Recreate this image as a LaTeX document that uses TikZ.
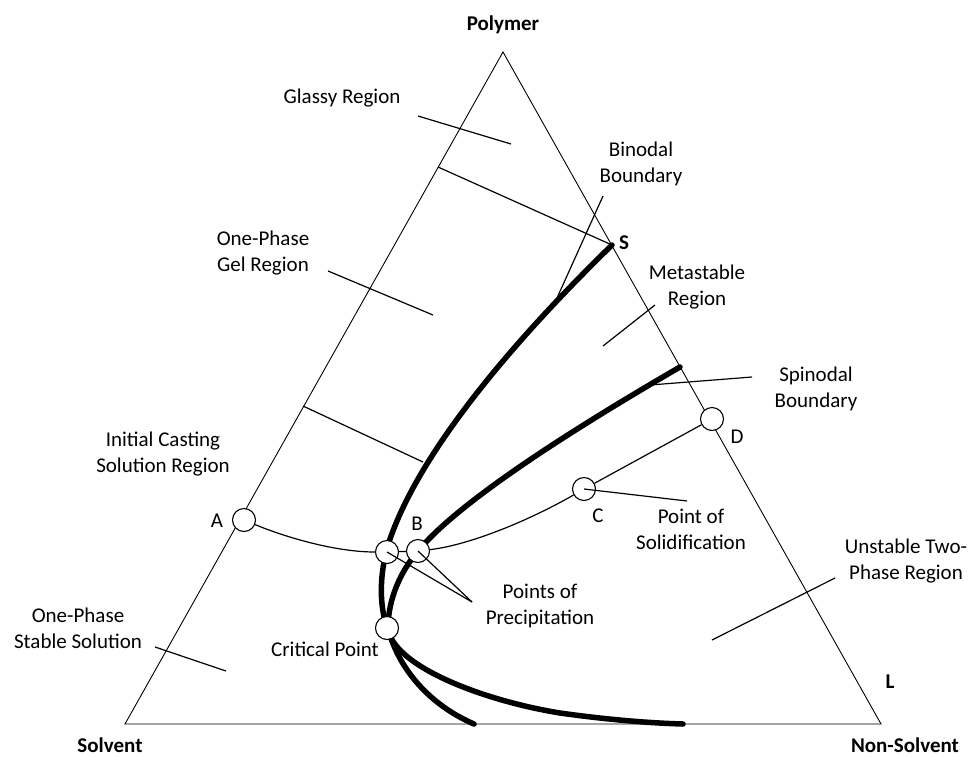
\documentclass[tikz,border=0pt]{standalone}
\usepackage{fontspec}
\setmainfont{Carlito}
\usetikzlibrary{calc}

\begin{document}
\begin{tikzpicture}[x=1pt, y=-1pt,
		txt/.style={font=\fontsize{21}{26}\selectfont, align=center, inner sep=0pt},
		corner/.style={txt, font=\fontsize{21}{26}\selectfont\bfseries},
		thinline/.style={line width=1.2pt},
		edge/.style={line width=0.9pt},
		thickline/.style={line width=5.5pt, line cap=round},
		stop/.style={circle, draw, fill=white, line width=1.1pt, minimum size=23pt, inner sep=0pt}]
	\useasboundingbox (0,0) rectangle (974,756);
	
	% triangle
	\coordinate (top) at (503,52);
	\coordinate (left) at (125,724);
	\coordinate (right) at (881,724);
	\draw[edge] (top) -- (left) -- (right) -- cycle;
	\node[corner] (polymer) at (503,25) {Polymer};
	\node[corner] (solvent) at (110,745) {Solvent};
	\node[corner] (nonsolvent) at (905,745) {Non-Solvent};
	\node[corner] (sS) at (624,243) {S};
	\node[corner] (sL) at (890,682) {L};
	
	% tie lines
	\coordinate (sEnd) at (612,245);
	\draw[thinline] (438,167) -- (sEnd);
	\draw[thinline] (303,406) -- (423,462);
	
	% binodal
	\draw[thickline] (sEnd) .. controls (530,325) and (420,445) .. (388,545)
		.. controls (378,580) and (380,612) .. (389,632)
		.. controls (400,670) and (430,705) .. (474,724);
	% spinodal
	\draw[thickline] (680,367) .. controls (580,425) and (460,500) .. (418,551)
		.. controls (400,572) and (388,600) .. (388,628)
		.. controls (392,665) and (480,700) .. (560,713)
		.. controls (610,720) and (650,723) .. (683,724);
	
	% path of the casting solution
	\node[stop] (ptA) at (244,520) {};
	\node[stop] (ptP) at (387,552) {};
	\node[stop] (ptB) at (418,551) {};
	\node[stop] (ptC) at (584,489) {};
	\node[stop] (ptD) at (712,419) {};
	\node[stop] (crit) at (387,628) {};
	\draw[thinline] (ptA) .. controls (285,537) and (335,552) .. (ptP);
	\draw[thinline] (ptP) -- (ptB);
	\draw[thinline] (ptB) .. controls (470,545) and (530,520) .. (ptC);
	\draw[thinline] (ptC) -- (ptD);
	\node[txt] (lA) at (217,521) {A};
	\node[txt] (lB) at (417,524) {B};
	\node[txt] (lC) at (598,516) {C};
	\node[txt] (lD) at (737,437) {D};
	
	% region labels
	\node[txt] (glassy) at (342,98) {Glassy Region};
	\node[txt] (binodal) at (641,164) {Binodal\\Boundary};
	\node[txt] (gel) at (263,253) {One-Phase\\Gel Region};
	\node[txt] (meta) at (697,287) {Metastable\\Region};
	\node[txt] (spinodal) at (816,389) {Spinodal\\Boundary};
	\node[txt] (casting) at (163,454) {Initial Casting\\Solution Region};
	\node[txt] (solid) at (691,529) {Point of\\Solidification};
	\node[txt] (precip) at (540,606) {Points of\\Precipitation};
	\node[txt] (unstable) at (906,561) {Unstable Two-\\Phase Region};
	\node[txt] (stable) at (78,628) {One-Phase\\Stable Solution};
	\node[txt] (critlabel) at (325,649) {Critical Point};
	
	% leaders
	\draw[thinline] (418,116) -- (511,144);
	\draw[thinline] (603,196) -- (557,298);
	\draw[thinline] (328,271) -- (433,315);
	\draw[thinline] (655,305) -- (603,346);
	\draw[thinline] (752,377) -- (650,385);
	\draw[thinline] (ptC.center) -- (687,501);
	\coordinate (precipTip) at (472,602);
	\draw[thinline] (ptP.center) -- (precipTip);
	\draw[thinline] (ptB.center) -- (precipTip);
	\draw[thinline] (835,578) -- (712,640);
	\draw[thinline] (155,647) -- (226,671);
\end{tikzpicture}
\end{document}
